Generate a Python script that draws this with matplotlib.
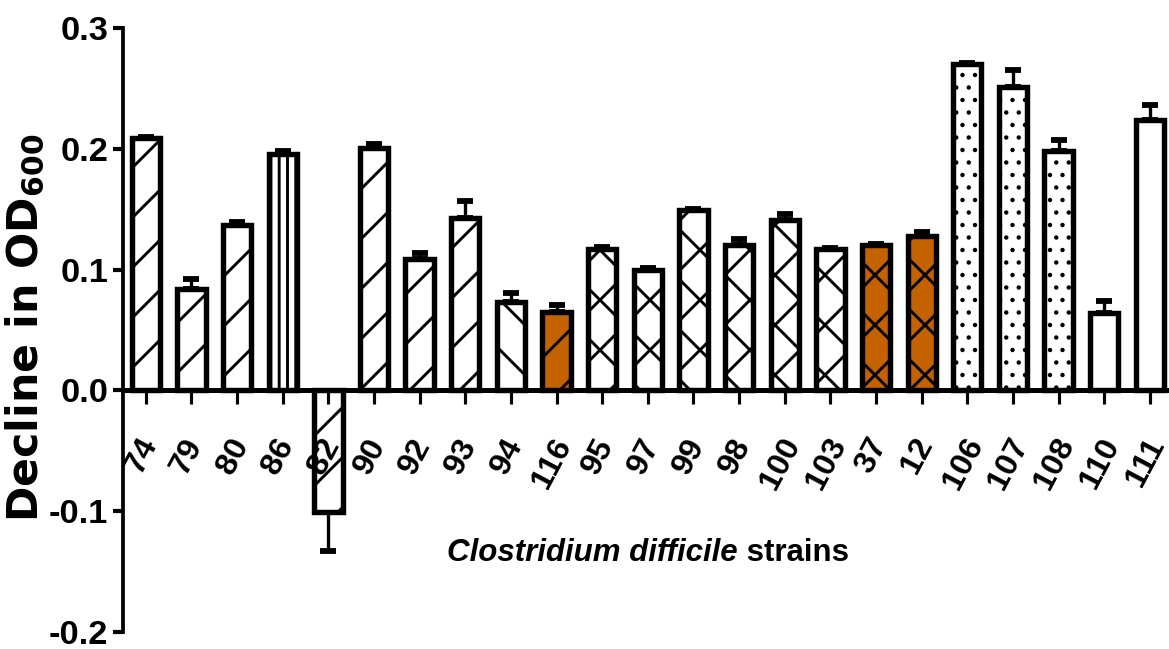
import matplotlib
matplotlib.use('Agg')
import matplotlib.pyplot as plt
import matplotlib.transforms as mtransforms
import numpy as np

# decline in OD600 per C. difficile strain, with SEM
strains = ['74', '79', '80', '86', '82', '90', '92', '93', '94', '116', '95', '97',
           '99', '98', '100', '103', '37', '12', '106', '107', '108', '110', '111']
decline = [0.209, 0.084, 0.137, 0.196, -0.101, 0.201, 0.109, 0.143, 0.073, 0.065,
           0.117, 0.100, 0.149, 0.120, 0.141, 0.117, 0.120, 0.128, 0.270, 0.251,
           0.198, 0.064, 0.224]
sem = [0.001, 0.008, 0.002, 0.002, 0.032, 0.003, 0.005, 0.014, 0.008, 0.006, 0.002,
       0.001, 0.001, 0.005, 0.005, 0.001, 0.001, 0.003, 0.001, 0.014, 0.009, 0.010, 0.012]
hatches = ['/', '/', '/', '|||', '/', '/', '/', '/', '\\', '/', 'x', 'x', 'x', 'x',
           'x', 'x', 'x', 'x', '..', '..', '..', '', '']
fills = ['white'] * 9 + ['#C46200'] + ['white'] * 6 + ['#C46200', '#C46200'] + ['white'] * 5
yticks = [-0.2, -0.1, 0.0, 0.1, 0.2, 0.3]

plt.rcParams['axes.unicode_minus'] = False
plt.rcParams['hatch.linewidth'] = 1.4
plt.rcParams['hatch.color'] = 'black'
plt.rcParams['mathtext.fontset'] = 'dejavusans'

narrow = ['Liberation Sans Narrow', 'Liberation Sans', 'DejaVu Sans']

fig = plt.figure(figsize=(1169 / 150, 649 / 150), dpi=150)
ax = fig.add_axes([123 / 1169, 17 / 649, 1 - 123 / 1169, (632 - 28) / 649])

x = np.arange(len(strains))
vals = np.array(decline)
err = np.array(sem)
lower = np.where(vals < 0, err, 0)
upper = np.where(vals < 0, 0, err)

ax.errorbar(x, vals, yerr=[lower, upper], fmt='none', ecolor='black',
            elinewidth=1.6, capsize=4.0, capthick=2.8, zorder=1)
bars = ax.bar(x, vals, width=0.62, color=fills, edgecolor='black', linewidth=2.6,
              hatch=hatches, zorder=2, clip_on=False)
# finer dots for the stippled bars
for b, h in zip(bars, hatches):
    if h.startswith('.') and hasattr(b, 'set_hatch_linewidth'):
        b.set_hatch_linewidth(0.9)

ax.set_xlim(-0.5, len(strains) - 1 + 0.42)
ax.set_ylim(-0.2, 0.3)
ax.set_axisbelow(False)

for s in ['top', 'right']:
    ax.spines[s].set_visible(False)
ax.spines['bottom'].set_position(('data', 0))
ax.spines['bottom'].set_linewidth(2.4)
ax.spines['left'].set_linewidth(1.8)
ax.spines['bottom'].set_zorder(3)

ax.set_yticks(yticks)
ax.set_yticklabels(['%.1f' % t for t in yticks], fontfamily=narrow,
                   fontweight='bold', fontsize=16.5)
ax.tick_params(axis='y', direction='out', length=5, width=2.0, pad=2)

ax.set_xticks(x)
ax.set_xticklabels(strains, rotation=62, fontfamily=narrow, fontweight='bold',
                   fontsize=15.5, ha='center', va='top')
ax.tick_params(axis='x', direction='out', length=6.5, width=1.5, pad=14)
shift = mtransforms.ScaledTranslation(-4 / 150, 0, fig.dpi_scale_trans)
for lab in ax.get_xticklabels():
    lab.set_transform(lab.get_transform() + shift)

# axis titles
fig.text(26 / 1169, 1 - 328 / 649, r'Decline in OD$_{\mathbf{600}}$', rotation=90,
         ha='center', va='center', fontsize=20.5, fontweight='bold',
         fontfamily='DejaVu Sans')
t1 = fig.text(447 / 1169, 1 - 561 / 649, 'Clostridium difficile', ha='left',
              va='baseline', fontsize=15, fontweight='bold', fontstyle='italic',
              fontfamily=narrow)
ax.annotate(' strains', xy=(1, 0), xycoords=t1, va='bottom', ha='left',
            fontsize=15, fontweight='bold', fontfamily=narrow)

fig.savefig('out.png', dpi=150, facecolor='white')
